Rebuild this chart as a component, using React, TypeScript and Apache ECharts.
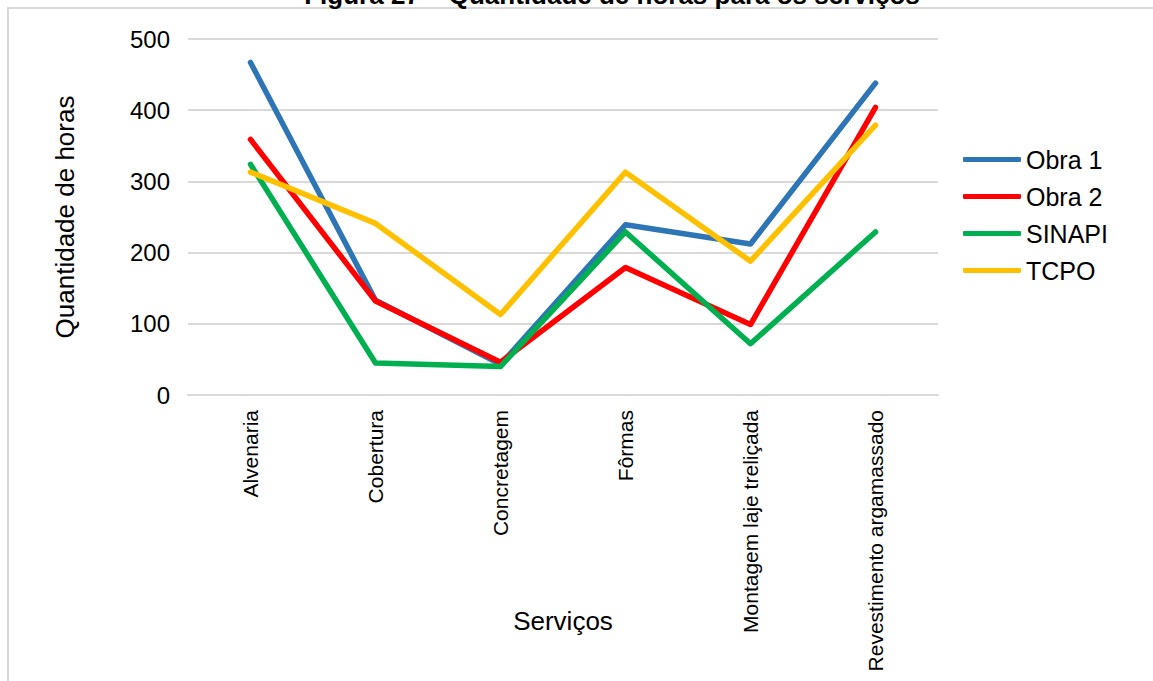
import React, { useEffect, useRef } from "react";
import * as echarts from "echarts";

const categories = [
  "Alvenaria",
  "Cobertura",
  "Concretagem",
  "Fôrmas",
  "Montagem laje treliçada",
  "Revestimento argamassado",
];
const obra1 = [467, 133, 43, 239, 212, 438];
const obra2 = [359, 132, 46, 179, 99, 404];
const sinapi = [324, 45, 40, 229, 72, 229];
const tcpo = [313, 241, 113, 313, 188, 379];
const yTicks = [0, 100, 200, 300, 400, 500];

const title = "Figura 27 – Quantidade de horas para os serviços";
const font = "Liberation Sans, Arial, sans-serif";

export default function App() {
  const ref = useRef<HTMLDivElement>(null);
  useEffect(() => {
    if (!ref.current) return;
    const chart = echarts.init(ref.current, null, { renderer: "svg" });
    const mk = (name: string, data: number[], color: string) => ({
      name,
      type: "line",
      data,
      symbol: "none",
      color,
      lineStyle: { width: 5.5, color, cap: "round", join: "round" },
    });
    chart.setOption({
      animation: false,
      backgroundColor: "#ffffff",
      textStyle: { fontFamily: font },
      graphic: [
        {
          type: "rect",
          shape: { x: 8, y: 8, width: 1300, height: 800 },
          style: { fill: "none", stroke: "#d9d9d9", lineWidth: 2 },
          silent: true,
        },
        {
          type: "text",
          x: 612,
          y: -5,
          style: {
            text: title,
            fontFamily: font,
            fontSize: 26,
            fontWeight: "bold",
            fill: "#000",
            align: "center",
            verticalAlign: "middle",
          },
        },
      ],
      grid: {
        left: 188,
        right: 215,
        top: 39,
        bottom: 286,
        containLabel: false,
        outerBoundsMode: "none",
      },
      legend: {
        orient: "vertical",
        left: 958,
        top: 142,
        icon: "roundRect",
        itemWidth: 58,
        itemHeight: 5,
        itemGap: 12,
        textStyle: { fontSize: 25, color: "#000", fontFamily: font },
        data: ["Obra 1", "Obra 2", "SINAPI", "TCPO"],
      },
      xAxis: {
        type: "category",
        data: categories,
        boundaryGap: true,
        name: "Serviços",
        nameLocation: "middle",
        nameGap: 213,
        nameMoveOverlap: false,
        nameTextStyle: { fontSize: 26, color: "#000", fontFamily: font },
        axisLine: { show: true, lineStyle: { color: "#d9d9d9", width: 2 } },
        axisTick: { show: false },
        axisLabel: {
          rotate: 90,
          interval: 0,
          fontSize: 21,
          color: "#000",
          margin: 15,
          fontFamily: font,
        },
      },
      yAxis: {
        type: "value",
        min: yTicks[0],
        max: yTicks[yTicks.length - 1],
        interval: 100,
        name: "Quantidade de horas",
        nameLocation: "middle",
        nameGap: 110,
        nameMoveOverlap: false,
        nameTextStyle: { fontSize: 26, color: "#000", fontFamily: font },
        axisLine: { show: false },
        axisTick: { show: false },
        axisLabel: { fontSize: 24, color: "#000", margin: 18, fontFamily: font },
        splitLine: { lineStyle: { color: "#d9d9d9", width: 2 } },
      },
      series: [
        mk("Obra 1", obra1, "#2e75b6"),
        mk("Obra 2", obra2, "#ff0000"),
        mk("SINAPI", sinapi, "#00b050"),
        mk("TCPO", tcpo, "#ffc000"),
      ],
    });
    return () => chart.dispose();
  }, []);
  return (
    <div
      ref={ref}
      style={{ position: "absolute", left: 0, top: 0, width: 1153, height: 681 }}
    />
  );
}
